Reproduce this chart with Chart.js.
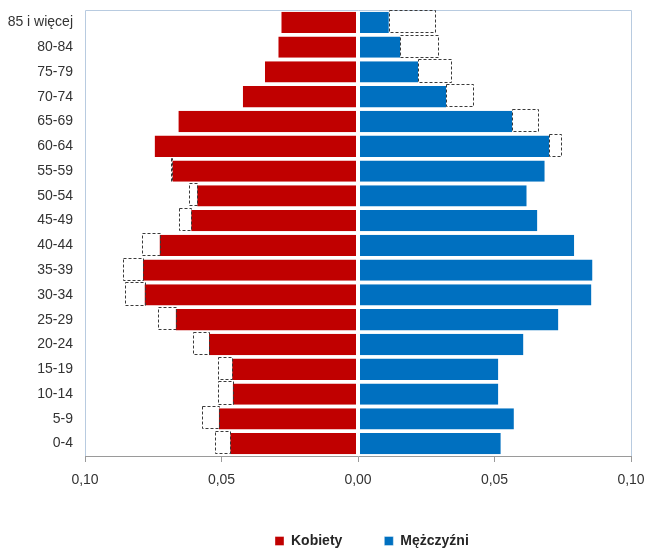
<!DOCTYPE html>
<html>
<head>
<meta charset="utf-8">
<script src="https://cdn.jsdelivr.net/npm/chart.js@4/dist/chart.umd.min.js"></script>
<style>
  html, body { margin: 0; padding: 0; background: #ffffff; }
  #wrap { width: 646px; height: 551px; }
</style>
</head>
<body>
<div id="wrap"><canvas id="c" width="646" height="551"></canvas></div>
<script>
// Age groups, listed from youngest to oldest
const ageGroups = ['0-4','5-9','10-14','15-19','20-24','25-29','30-34','35-39','40-44',
                   '45-49','50-54','55-59','60-64','65-69','70-74','75-79','80-84','85 i więcej'];
// Share of population
const kobiety   = [0.0468, 0.0510, 0.0459, 0.0461, 0.0546, 0.0668, 0.0782, 0.0788, 0.0727,
                   0.0611, 0.0589, 0.0680, 0.0745, 0.0658, 0.0422, 0.0341, 0.0292, 0.0281];
const mezczyzni = [0.0523, 0.0571, 0.0514, 0.0514, 0.0606, 0.0734, 0.0855, 0.0859, 0.0792,
                   0.0657, 0.0618, 0.0684, 0.0700, 0.0565, 0.0323, 0.0220, 0.0155, 0.0113];
const xTicks = [-0.10, -0.05, 0.00, 0.05, 0.10];
const seriesNames = ['Kobiety', 'Mężczyźni'];

const FONT = "'Liberation Sans Narrow', 'Liberation Sans', sans-serif";

// Frame (top, left, right) + dashed comparison boxes (opposite sex mirrored)
const pyramidPlugin = {
  id: 'pyramid',
  beforeDatasetsDraw(chart) {
    const {ctx, chartArea: a} = chart;
    ctx.save();
    ctx.strokeStyle = '#b8cbe0';
    ctx.lineWidth = 1;
    ctx.beginPath();
    ctx.moveTo(Math.round(a.left) + 0.5, Math.round(a.bottom));
    ctx.lineTo(Math.round(a.left) + 0.5, Math.round(a.top) + 0.5);
    ctx.lineTo(Math.round(a.right) + 0.5, Math.round(a.top) + 0.5);
    ctx.lineTo(Math.round(a.right) + 0.5, Math.round(a.bottom));
    ctx.stroke();
    ctx.restore();
  },
  afterDatasetsDraw(chart) {
    const {ctx} = chart;
    const x = chart.scales.x;
    const fMeta = chart.getDatasetMeta(0);
    const mMeta = chart.getDatasetMeta(1);
    ctx.save();
    ctx.strokeStyle = '#3a3a3a';
    ctx.lineWidth = 1;
    ctx.setLineDash([3, 2]);
    const box = (x1, x2, el) => {
      const l = Math.round(Math.min(x1, x2)) + 0.5;
      const r = Math.round(Math.max(x1, x2)) + 0.5;
      const t = Math.round(el.y - el.height / 2) - 1.5;
      const b = Math.round(el.y + el.height / 2) - 0.5;
      ctx.strokeRect(l, t, r - l, b - t);
    };
    for (let i = 0; i < ageGroups.length; i++) {
      const f = kobiety[i], m = mezczyzni[i];
      if (m > f) {
        box(x.getPixelForValue(-f), x.getPixelForValue(-m), fMeta.data[i]);
      }
      if (f > m) {
        box(x.getPixelForValue(m), x.getPixelForValue(f), mMeta.data[i]);
      }
    }
    ctx.restore();
  },
  afterLayout(chart) {
    // place legend like the original (off-centre)
    const lg = chart.legend;
    if (lg) {
      const shift = 275 - lg.options.labels.padding - lg.left;
      lg.left += shift;
      lg.right += shift;
    }
  }
};

new Chart(document.getElementById('c'), {
  type: 'bar',
  data: {
    labels: ageGroups,
    datasets: [
      {
        label: seriesNames[0],
        data: kobiety.map(v => -v),
        backgroundColor: '#C00000',
        borderColor: '#ffffff',
        borderWidth: {left: 0, right: 1.5, top: 0, bottom: 0},
        borderSkipped: false,
        grouped: false,
        barPercentage: 1,
        categoryPercentage: 0.86
      },
      {
        label: seriesNames[1],
        data: mezczyzni,
        backgroundColor: '#0070C0',
        borderColor: '#ffffff',
        borderWidth: {left: 1.5, right: 0, top: 0, bottom: 0},
        borderSkipped: false,
        grouped: false,
        barPercentage: 1,
        categoryPercentage: 0.86
      }
    ]
  },
  options: {
    indexAxis: 'y',
    responsive: false,
    animation: false,
    devicePixelRatio: 1,
    layout: { padding: { top: 10, right: 15, left: 0, bottom: 0 } },
    scales: {
      x: {
        min: xTicks[0],
        max: xTicks[xTicks.length - 1],
        afterBuildTicks(scale) { scale.ticks = xTicks.map(v => ({value: v})); },
        afterFit(scale) { scale.height = 36; scale.paddingLeft = 0; scale.paddingRight = 0; },
        grid: { drawOnChartArea: false, drawTicks: true, tickLength: 6, color: '#9a9a9a' },
        border: { display: true, color: '#9a9a9a', width: 1 },
        ticks: {
          padding: 10,
          color: '#333333',
          font: { family: FONT, size: 14 },
          callback: v => Math.abs(v).toFixed(2).replace('.', ',')
        }
      },
      y: {
        reverse: true,
        afterFit(scale) { scale.width = 85; scale.paddingTop = 0; scale.paddingBottom = 0; },
        grid: { display: false, drawTicks: false },
        border: { display: false },
        ticks: {
          padding: 12,
          color: '#333333',
          font: { family: FONT, size: 14 }
        }
      }
    },
    plugins: {
      tooltip: { enabled: false },
      legend: {
        position: 'bottom',
        align: 'start',
        maxHeight: 59,
        labels: {
          boxWidth: 9,
          boxHeight: 9,
          padding: 42,
          color: '#262626',
          font: { family: FONT, size: 14, weight: 'bold' }
        }
      }
    }
  },
  plugins: [pyramidPlugin]
});
</script>
</body>
</html>
